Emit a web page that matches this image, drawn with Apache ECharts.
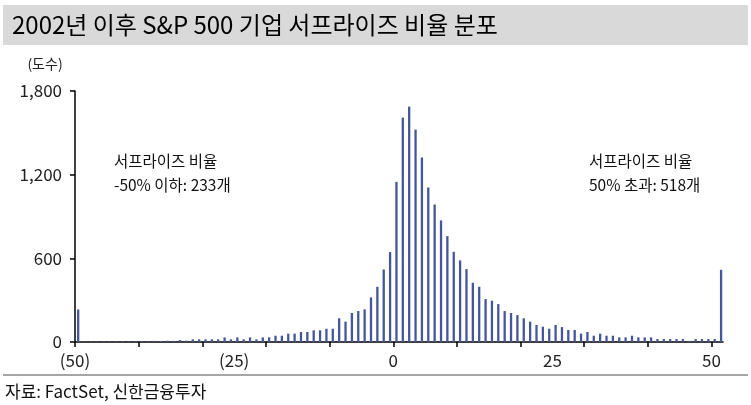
<!DOCTYPE html>
<html>
<head>
<meta charset="utf-8">
<script src="https://cdn.jsdelivr.net/npm/echarts@6/dist/echarts.min.js"></script>
<style>
  html, body { margin: 0; padding: 0; background: #fff; }
  #chart { width: 751px; height: 405px; }
</style>
</head>
<body>
<div id="chart"></div>
<script>
// 서프라이즈 비율 구간 (하한, %) : -50 이하 구간부터 50 초과 구간까지
var binStart = [];
for (var b = -50; b <= 51; b++) binStart.push(b);

// 구간별 기업 수 (도수)
var counts = [
  233, 3, 4, 3, 5, 4, 5, 6, 5, 6,
  7, 6, 8, 7, 9, 8, 14, 10, 19, 19,
  19, 19, 19, 33, 19, 33, 19, 33, 19, 33,
  33, 45, 45, 60, 60, 72, 72, 84, 84, 95,
  95, 170, 146, 208, 222, 234, 320, 396, 520, 645,
  1148, 1609, 1688, 1523, 1323, 1108, 986, 872, 759, 647,
  585, 523, 425, 396, 308, 296, 272, 222, 208, 193,
  170, 146, 122, 110, 95, 122, 107, 86, 86, 60,
  72, 45, 60, 45, 45, 33, 33, 45, 33, 33,
  33, 21, 21, 21, 21, 21, 8, 21, 21, 21,
  21, 518
];

var xTicks = [-50, -40, -30, -20, -10, 0, 10, 20, 30, 40, 50];
var xLabels = [-50, -25, 0, 25, 50];

var seriesData = binStart.map(function (s, i) { return [s + 0.5, counts[i]]; });

var font = '"Noto Sans CJK KR", "Noto Sans", sans-serif';
var chart = echarts.init(document.getElementById('chart'));

var option = {
  animation: false,
  backgroundColor: '#fff',
  grid: { left: 75, right: 28, top: 91, bottom: 63 },
  xAxis: {
    type: 'value',
    min: -50,
    max: 51.8,
    splitLine: { show: false },
    axisLine: { onZero: false, lineStyle: { color: '#000', width: 1.5 } },
    axisTick: { show: true, length: 5, customValues: xTicks, lineStyle: { color: '#000', width: 1.5 } },
    axisLabel: {
      customValues: xLabels,
      color: '#222',
      fontSize: 17,
      fontFamily: font,
      margin: 10,
      formatter: function (v) { return v < 0 ? '(' + Math.abs(v) + ')' : String(v); }
    }
  },
  yAxis: {
    type: 'value',
    min: 0,
    max: 1800,
    interval: 600,
    splitLine: { show: false },
    axisLine: { show: true, onZero: false, lineStyle: { color: '#000', width: 1.5 } },
    axisTick: { show: true, length: 5, lineStyle: { color: '#000', width: 1.5 } },
    axisLabel: {
      color: '#222',
      fontSize: 17,
      fontFamily: font,
      margin: 13,
      formatter: function (v) { return v.toLocaleString('en-US'); }
    }
  },
  series: [{
    type: 'bar',
    data: seriesData,
    barWidth: 2.3,
    itemStyle: { color: '#46569a' }
  }],
  graphic: [
    { type: 'rect', shape: { x: 3, y: 5, width: 745, height: 40 }, style: { fill: '#d9d9d9' } },
    { type: 'text', x: 12, y: 25, style: { text: '2002년 이후 S&P 500 기업 서프라이즈 비율 분포', font: 'normal 24px ' + font, fill: '#000', verticalAlign: 'middle' } },
    { type: 'text', x: 45, y: 64, style: { text: '(도수)', font: 'normal 14px ' + font, fill: '#222', align: 'center', verticalAlign: 'middle' } },
    { type: 'text', x: 114, y: 161, style: { text: '서프라이즈 비율', font: 'normal 15.5px ' + font, fill: '#111', verticalAlign: 'middle' } },
    { type: 'text', x: 114, y: 185, style: { text: '-50% 이하: 233개', font: 'normal 15.5px ' + font, fill: '#111', verticalAlign: 'middle' } },
    { type: 'text', x: 589, y: 161, style: { text: '서프라이즈 비율', font: 'normal 15.5px ' + font, fill: '#111', verticalAlign: 'middle' } },
    { type: 'text', x: 589, y: 185, style: { text: '50% 초과: 518개', font: 'normal 15.5px ' + font, fill: '#111', verticalAlign: 'middle' } },
    { type: 'rect', shape: { x: 3, y: 374, width: 745, height: 2 }, style: { fill: '#a6a6a6' } },
    { type: 'text', x: 5, y: 392, style: { text: '자료: FactSet, 신한금융투자', font: 'normal 17px ' + font, fill: '#111', verticalAlign: 'middle' } }
  ]
};

chart.setOption(option);
</script>
</body>
</html>
